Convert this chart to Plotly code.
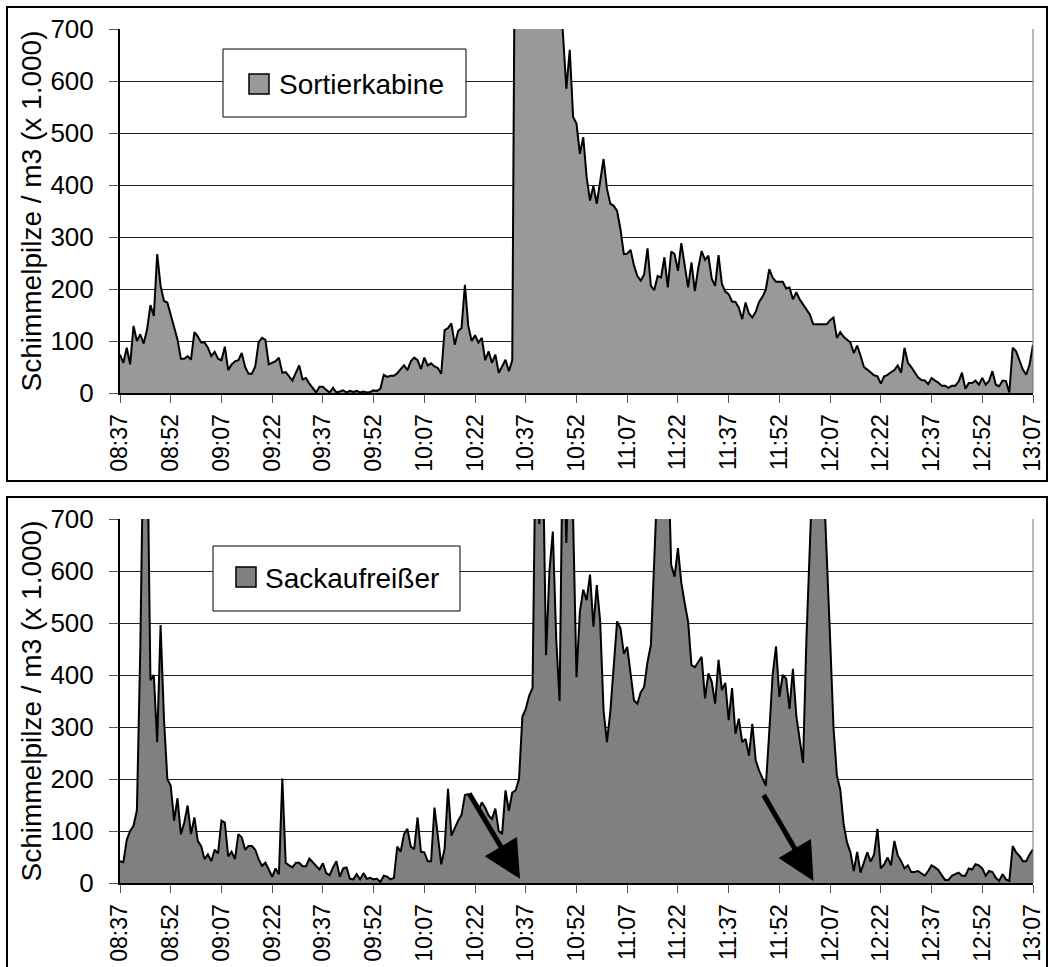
import plotly.graph_objects as go
import pandas as pd

# ---------------- data ----------------
times = pd.date_range("2000-01-01 08:37", periods=271, freq="min").strftime("%H:%M").tolist()
tick_labels = times[::15]

y_ticks = [0, 100, 200, 300, 400, 500, 600, 700]

sortierkabine = [
    74, 58, 87, 55, 129, 100, 113, 95, 122, 169,
    148, 267, 206, 177, 174, 150, 122, 103, 66, 66,
    71, 64, 117, 109, 97, 97, 87, 71, 79, 66,
    63, 89, 44, 55, 61, 63, 77, 50, 37, 37,
    51, 98, 106, 102, 55, 58, 61, 68, 39, 40,
    32, 24, 39, 53, 26, 29, 18, 10, 1, 12,
    12, 6, 1, 10, 1, 3, 5, 1, 4, 2,
    4, 1, 3, 1, 2, 5, 4, 8, 35, 31,
    33, 33, 38, 46, 53, 44, 61, 68, 63, 46,
    68, 53, 57, 51, 48, 37, 121, 125, 134, 93,
    119, 125, 208, 129, 100, 111, 97, 106, 63, 80,
    58, 74, 39, 51, 64, 42, 63, 1150, 1250, 1300,
    1350, 1300, 1250, 1200, 1150, 1100, 1000, 950, 900, 850,
    800, 690, 585, 660, 531, 518, 460, 492, 415, 370,
    398, 364, 409, 450, 393, 364, 360, 350, 315, 267,
    268, 275, 245, 225, 216, 228, 278, 206, 198, 225,
    222, 261, 203, 272, 267, 235, 288, 247, 203, 251,
    196, 240, 273, 256, 264, 220, 206, 265, 210, 195,
    190, 176, 175, 164, 142, 174, 153, 145, 156, 175,
    185, 199, 238, 222, 214, 214, 214, 201, 203, 180,
    194, 180, 170, 162, 151, 132, 132, 132, 132, 132,
    140, 145, 106, 117, 108, 102, 97, 77, 91, 72,
    50, 45, 40, 34, 32, 18, 32, 35, 40, 44,
    53, 39, 87, 58, 50, 39, 30, 25, 24, 17,
    29, 24, 20, 14, 14, 10, 14, 14, 22, 39,
    8, 19, 19, 24, 16, 29, 16, 23, 42, 16,
    13, 24, 23, 1, 87, 80, 64, 45, 35, 55, 93,
]

sackaufreisser = [
    42, 40, 83, 100, 110, 140, 450, 900, 900, 390,
    400, 271, 496, 316, 200, 187, 120, 163, 94, 116,
    149, 94, 126, 81, 71, 46, 55, 42, 64, 57,
    120, 116, 51, 60, 46, 94, 88, 64, 71, 71,
    64, 46, 33, 39, 26, 12, 28, 17, 201, 39,
    34, 30, 39, 39, 32, 32, 47, 39, 33, 26,
    38, 19, 15, 30, 42, 12, 28, 30, 8, 7,
    17, 7, 19, 8, 10, 7, 8, 2, 14, 12,
    7, 10, 70, 60, 94, 104, 70, 65, 126, 60,
    59, 42, 42, 145, 91, 36, 66, 181, 91, 107,
    120, 131, 169, 171, 165, 150, 139, 155, 145, 130,
    123, 143, 100, 94, 178, 139, 174, 178, 200, 320,
    335, 360, 375, 900, 690, 850, 438, 600, 676, 470,
    350, 900, 654, 900, 700, 396, 522, 564, 544, 593,
    493, 573, 503, 332, 271, 329, 420, 503, 490, 441,
    454, 406, 351, 345, 367, 377, 425, 458, 618, 900,
    950, 900, 850, 612, 589, 644, 577, 538, 503, 419,
    415, 425, 435, 355, 403, 387, 345, 429, 371, 385,
    313, 375, 287, 316, 271, 277, 245, 306, 236, 216,
    200, 187, 290, 400, 455, 358, 400, 393, 335, 412,
    322, 280, 231, 470, 676, 900, 1000, 950, 800, 640,
    470, 300, 207, 180, 113, 78, 59, 23, 60, 20,
    42, 59, 41, 55, 104, 28, 36, 49, 34, 81,
    53, 42, 28, 34, 21, 21, 23, 19, 14, 23,
    34, 30, 25, 15, 6, 6, 14, 17, 20, 14,
    14, 28, 26, 36, 34, 28, 14, 23, 21, 10,
    4, 17, 7, 4, 71, 59, 52, 42, 42, 55, 65,
]

series_names = ["Sortierkabine", "Sackaufreißer"]
fill_colors = ["#999999", "#808080"]
y_title = "Schimmelpilze / m3 (x 1.000)"

# ---------------- layout helpers ----------------
W, H = 1051, 967
FONT = "Liberation Sans, Arial, sans-serif"


def fx(px):
    return px / W


def fy(px):
    return 1 - px / H


fig = go.Figure()

fig.add_trace(go.Scatter(
    x=times, y=sortierkabine, mode="lines", fill="tozeroy",
    fillcolor=fill_colors[0], line=dict(color="black", width=2),
    name=series_names[0], showlegend=False, xaxis="x", yaxis="y",
))
fig.add_trace(go.Scatter(
    x=times, y=sackaufreisser, mode="lines", fill="tozeroy",
    fillcolor=fill_colors[1], line=dict(color="black", width=2),
    name=series_names[1], showlegend=False, xaxis="x2", yaxis="y2",
))

x_dom = [fx(120), fx(1033)]
top_dom = [fy(393), fy(29)]
bot_dom = [fy(883), fy(519)]

xaxis_common = dict(
    type="category", range=[0, len(times) - 1],
    tickmode="array", tickvals=tick_labels, ticktext=tick_labels,
    tickangle=-90, ticks="outside", ticklen=8, tickcolor="#555555",
    tickfont=dict(family=FONT, size=23, color="black"),
    ticklabelstandoff=2, automargin=False,
    showline=True, linecolor="black", linewidth=2,
    showgrid=False, zeroline=False, domain=x_dom,
)
yaxis_common = dict(
    range=[0, 700], tickmode="array", tickvals=y_ticks,
    ticks="outside", ticklen=9, tickcolor="#555555",
    tickfont=dict(family=FONT, size=26, color="black"),
    ticklabelstandoff=10, automargin=False,
    showline=True, linecolor="black", linewidth=2,
    showgrid=True, gridcolor="#222222", gridwidth=1, zeroline=False,
    title=dict(text=y_title, font=dict(family=FONT, size=28, color="black"), standoff=1),
)

fig.update_layout(
    width=W, height=H, margin=dict(l=0, r=0, t=0, b=0, autoexpand=False),
    paper_bgcolor="white", plot_bgcolor="white", showlegend=False,
    xaxis=dict(**xaxis_common, anchor="y"),
    yaxis=dict(**yaxis_common, domain=top_dom, anchor="x"),
    xaxis2=dict(**xaxis_common, anchor="y2"),
    yaxis2=dict(**yaxis_common, domain=bot_dom, anchor="x2"),
)

shapes = []
# outer panel frames
shapes.append(dict(type="rect", xref="paper", yref="paper",
                   x0=fx(7), x1=fx(1047), y0=fy(481), y1=fy(7),
                   line=dict(color="black", width=2), fillcolor="rgba(0,0,0,0)", layer="below"))
shapes.append(dict(type="rect", xref="paper", yref="paper",
                   x0=fx(7), x1=fx(1047), y0=fy(990), y1=fy(497),
                   line=dict(color="black", width=2), fillcolor="rgba(0,0,0,0)", layer="below"))
# plot-area right border
for xr, yr in (("x", "y"), ("x2", "y2")):
    shapes.append(dict(type="line", xref=f"{xr} domain", yref=f"{yr} domain",
                       x0=1, x1=1, y0=0, y1=1, line=dict(color="#777777", width=1), layer="above"))

# legend boxes (box, swatch) and label
legends = [
    dict(box=(223, 49, 466, 117), sw=(249, 74, 269, 94), tx=277, ty=84, name=series_names[0], col=fill_colors[0]),
    dict(box=(213, 546, 460, 611), sw=(236, 567, 256, 587), tx=263, ty=578, name=series_names[1], col=fill_colors[1]),
]
annotations = []
for lg in legends:
    x0, y0, x1, y1 = lg["box"]
    shapes.append(dict(type="rect", xref="paper", yref="paper",
                       x0=fx(x0), x1=fx(x1), y0=fy(y1), y1=fy(y0),
                       line=dict(color="black", width=1), fillcolor="white", layer="above"))
    sx0, sy0, sx1, sy1 = lg["sw"]
    shapes.append(dict(type="rect", xref="paper", yref="paper",
                       x0=fx(sx0), x1=fx(sx1), y0=fy(sy1), y1=fy(sy0),
                       line=dict(color="black", width=1.5), fillcolor=lg["col"], layer="above"))
    annotations.append(dict(xref="paper", yref="paper", x=fx(lg["tx"]), y=fy(lg["ty"]),
                            xanchor="left", yanchor="middle", showarrow=False,
                            text=lg["name"], font=dict(family=FONT, size=28, color="black")))

# arrows in the lower chart
arrows = [((103, 175), (118.3, 8)), ((190.1, 172), (205.1, 4))]
for (tx_, ty_), (hx, hy) in arrows:
    annotations.append(dict(xref="x2", yref="y2", axref="x2", ayref="y2",
                            x=hx, y=hy, ax=tx_, ay=ty_, text="", showarrow=True,
                            arrowhead=2, arrowsize=1.5, arrowwidth=5, arrowcolor="black",
                            standoff=0, startstandoff=0))

fig.update_layout(shapes=shapes, annotations=annotations)

fig.write_html(
    "out.html",
    config={"displayModeBar": False},
    post_script="document.body.style.margin='0';document.body.style.overflow='hidden';",
)
